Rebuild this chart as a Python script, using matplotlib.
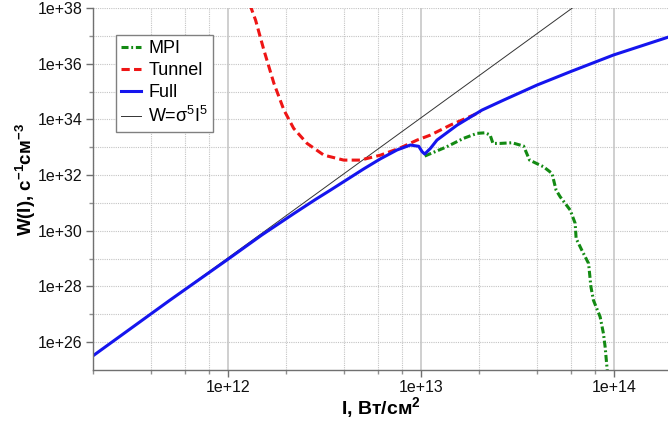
import math
import matplotlib
matplotlib.use('Agg')
import matplotlib.pyplot as plt
from matplotlib.ticker import FixedLocator, FuncFormatter, NullFormatter

plt.rcParams['font.family'] = ['Liberation Sans', 'DejaVu Sans']
plt.rcParams['mathtext.default'] = 'regular'

# ---- data ----
full_I = [2.02e11, 5.0e11, 9.85e11, 1.5e12, 2.19e12, 2.84e12, 3.4e12, 4.15e12, 5.06e12,
          6.17e12, 7.52e12, 8.81e12, 9.73e12, 1.014e13, 1.045e13, 1.119e13, 1.21e13,
          1.54e13, 2.07e13, 2.68e13, 3.99e13, 5.93e13, 9.93e13, 1.9e14]
full_W = [3.4e25, 3.2e27, 8.8e28, 7.1e29, 4.1e30, 1.33e31, 2.9e31, 7.0e31, 1.68e32,
          3.85e32, 8.0e32, 1.2e33, 1.08e33, 6.9e32, 5.7e32, 9.1e32, 1.81e33,
          6.25e33, 2.16e34, 4.94e34, 1.71e35, 5.14e35, 2.05e36, 8.9e36]

tunnel_I = [1.30e12, 1.39e12, 1.535e12, 1.73e12, 1.95e12, 2.19e12, 2.57e12, 3.14e12,
            3.98e12, 4.86e12, 6.17e12, 7.82e12, 9.55e12, 1.12e13, 1.42e13, 1.87e13, 2.03e13]
tunnel_W = [1.3e38, 3.7e37, 3.1e36, 1.97e35, 2.16e34, 4.75e33, 1.37e33, 5.2e32,
            3.45e32, 3.45e32, 5.2e32, 9.5e32, 1.81e33, 2.74e33, 6.25e33, 1.43e34, 1.88e34]

mpi_I = [1.045e13, 1.36e13, 1.66e13, 1.95e13, 2.15e13, 2.28e13, 2.36e13, 2.57e13,
         2.96e13, 3.4e13, 3.65e13, 4.31e13, 4.77e13, 5.01e13, 5.26e13, 5.93e13, 6.29e13,
         6.36e13, 6.81e13, 7.38e13, 7.59e13, 7.82e13, 8.47e13, 8.81e13, 8.99e13, 9.3e13]
mpi_W = [4.8e32, 1.04e33, 2.08e33, 3.15e33, 3.3e33, 2.74e33, 1.37e33, 1.37e33,
         1.45e33, 1.1e33, 3.45e32, 1.99e32, 1.15e32, 2.88e31, 1.66e31, 5.5e30, 1.84e30,
         5.3e29, 2.0e29, 6.7e28, 9.7e27, 3.2e27, 8.1e26, 2.05e26, 6.8e25, 5e24]

power_I = [2.02e11, 6.5e13]
power_W = [3.4e25, 1.4e38]

x_major = [1e12, 1e13, 1e14]
x_minor = [2e11, 4e11, 6e11, 8e11, 2e12, 4e12, 6e12, 8e12, 2e13, 4e13, 6e13, 8e13]
y_major = [1e26, 1e28, 1e30, 1e32, 1e34, 1e36, 1e38]
y_minor = [1e27, 1e29, 1e31, 1e33, 1e35, 1e37]

labels = ['MPI', 'Tunnel', 'Full', 'W=σ$^5$I$^5$']

# ---- figure ----
fig = plt.figure(figsize=(6.68, 4.25), dpi=100)
ax = fig.add_axes([93/668, 1 - 370/425, 575/668, 362/425])
ax.set_xscale('log')
ax.set_yscale('log')
ax.set_xlim(2e11, 1.903e14)
ax.set_ylim(1e25, 1e38)

gc = '#c4c4c4'
ax.xaxis.set_major_locator(FixedLocator(x_major))
ax.xaxis.set_minor_locator(FixedLocator(x_minor))
ax.yaxis.set_major_locator(FixedLocator(y_major))
ax.yaxis.set_minor_locator(FixedLocator(y_minor))

def fmt(v, pos):
    e = int(round(math.log10(v)))
    return '1e+%d' % e

ax.xaxis.set_major_formatter(FuncFormatter(fmt))
ax.yaxis.set_major_formatter(FuncFormatter(fmt))
ax.xaxis.set_minor_formatter(NullFormatter())
ax.yaxis.set_minor_formatter(NullFormatter())

ax.grid(True, which='major', axis='x', color='#c2c2c2', lw=1.1, ls='-')
ax.grid(True, which='minor', axis='x', color=gc, lw=0.8, ls=(0, (1, 1)))
ax.grid(True, which='both', axis='y', color=gc, lw=0.8, ls=(0, (1, 1)))
ax.set_axisbelow(True)

for s in ['top', 'right']:
    ax.spines[s].set_visible(False)
for s in ['left', 'bottom']:
    ax.spines[s].set_color('#707070')
    ax.spines[s].set_linewidth(1.0)

ax.tick_params(which='major', length=5, width=1, color='#707070', labelsize=11.5,
               pad=2.5, labelcolor='#111111')
ax.tick_params(which='minor', length=3, width=1, color='#909090')

lw = 2.2
l_pow, = ax.plot(power_I, power_W, color='#333333', lw=0.7)
l_mpi, = ax.plot(mpi_I, mpi_W, color='#138a13', lw=lw, dashes=(2.3, 0.9, 0.6, 0.9))
l_tun, = ax.plot(tunnel_I, tunnel_W, color='#ee1515', lw=lw, dashes=(2.7, 1.4))
l_full, = ax.plot(full_I, full_W, color='#1515ee', lw=lw)

ax.set_xlabel('I, Вт/см$^2$', fontsize=14, fontweight='bold')
ax.set_ylabel('W(I), с$^{-1}$см$^{-3}$', fontsize=13.5, fontweight='bold')
ax.xaxis.set_label_coords(0.5, -0.068)
ax.yaxis.set_label_coords(-0.095, 0.525)

leg = ax.legend([l_mpi, l_tun, l_full, l_pow], labels, loc='upper left',
                bbox_to_anchor=(0.04, 0.925), borderaxespad=0, fontsize=13,
                fancybox=False, framealpha=1, edgecolor='#808080',
                handlelength=1.1, handletextpad=0.4, labelspacing=0.28,
                borderpad=0.28)
leg.get_frame().set_linewidth(1.0)

fig.savefig('out.png', dpi=100)
